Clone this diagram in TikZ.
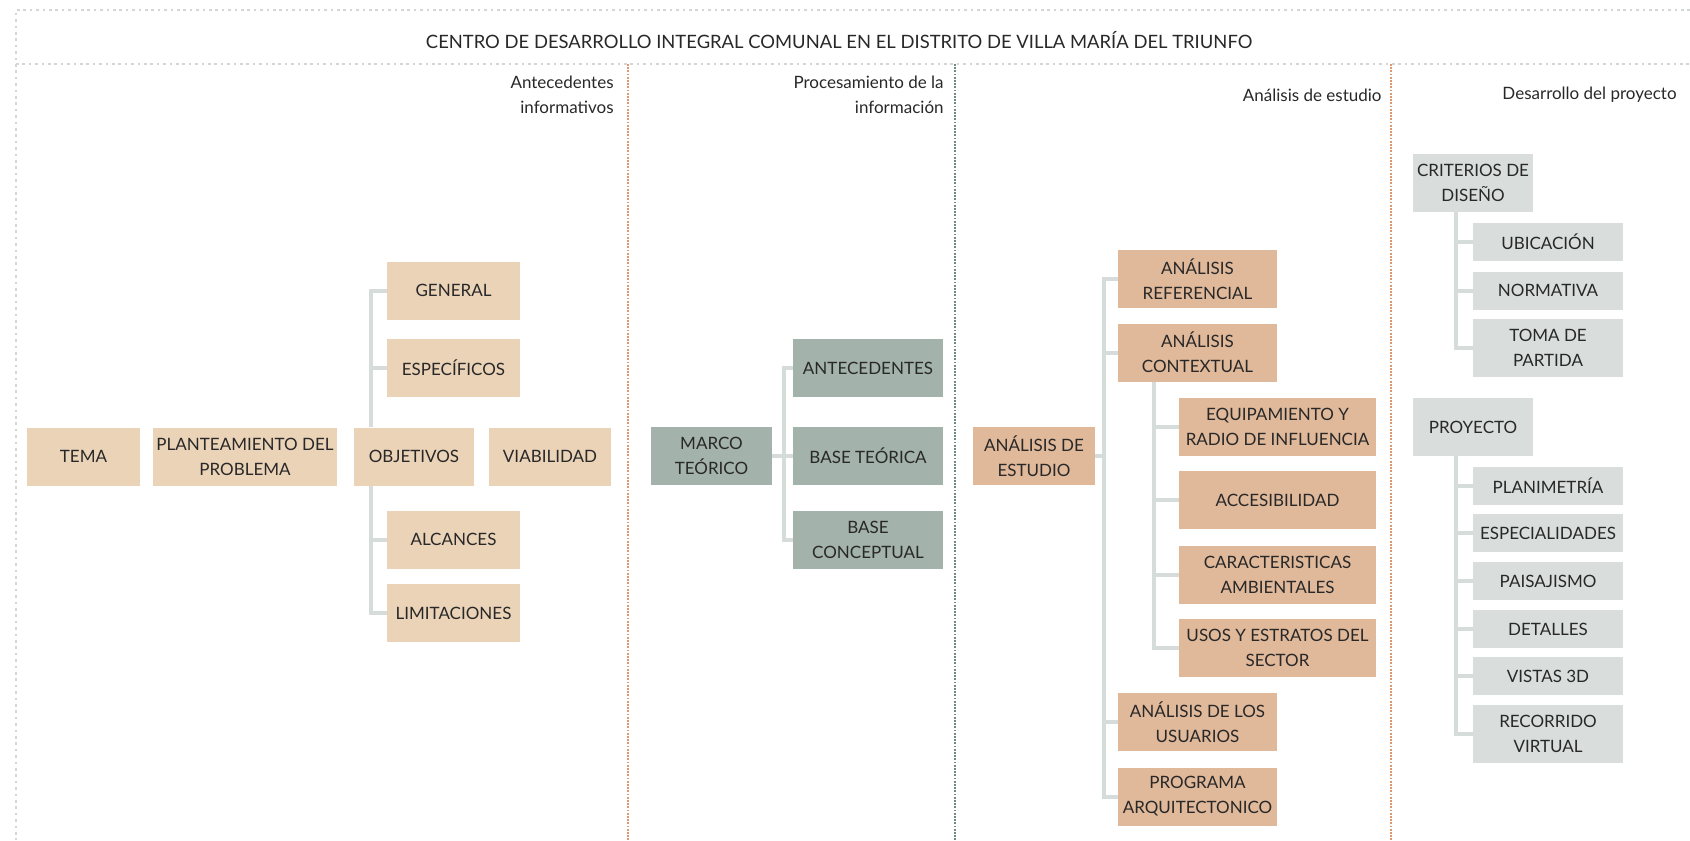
\documentclass[tikz,border=0pt]{standalone}
\usepackage{fontspec}
\setmainfont{Lato}
\definecolor{beige}{RGB}{235,211,184}
\definecolor{salvia}{RGB}{163,178,170}
\definecolor{canela}{RGB}{224,184,154}
\definecolor{perla}{RGB}{217,222,220}
\definecolor{enlace}{RGB}{214,220,218}
\definecolor{marco}{RGB}{210,214,214}
\definecolor{naranja}{RGB}{222,152,108}
\definecolor{verde}{RGB}{112,138,124}
\definecolor{tinta}{RGB}{40,40,40}
\tikzset{
  box/.style={inner sep=0pt, minimum height=29pt, align=center, text=tinta,
    font=\fontsize{8.5}{12.5}\selectfont},
  head/.style={anchor=east, align=right, inner xsep=0pt, text=tinta,
    font=\fontsize{8.5}{12.5}\selectfont},
  frame/.style={marco, line width=1.3pt, dash pattern=on 1.3pt off 1.9pt},
  divorange/.style={naranja, line width=1.2pt, dash pattern=on 0.9pt off 0.7pt},
  divgreen/.style={verde, line width=1.2pt, dash pattern=on 0.9pt off 0.7pt},
  link/.style={enlace, line width=2pt}
}

\begin{document}
\begin{tikzpicture}[x=0.5pt,y=-0.5pt]
\useasboundingbox (0,0) rectangle (1690,840);
% frame and columns
\draw[frame] (1690,10) -- (16,10) -- (16,840);
\draw[frame] (16,64) -- (1690,64);
\draw[divorange] (628,64) -- (628,840);
\draw[divgreen] (955,64) -- (955,840);
\draw[divorange] (1391,64) -- (1391,840);

\node[text=tinta, font=\fontsize{9.2}{11}\selectfont] (titulo) at (839,40)
  {CENTRO DE DESARROLLO INTEGRAL COMUNAL EN EL DISTRITO DE VILLA MARÍA DEL TRIUNFO};
\node[head] (h1) at (614,95) {Antecedentes\\informativos};
\node[head] (h2) at (944,95) {Procesamiento de la\\información};
\node[head] (h3) at (1382,95) {Análisis de estudio};
\node[head] (h4) at (1677,95) {Desarrollo del proyecto};

% antecedentes informativos
\node[box, fill=beige, minimum width=56.5pt] (tema) at (83.5,456.5) {TEMA};
\node[box, fill=beige, minimum width=92pt] (plan) at (245,456.5) {PLANTEAMIENTO DEL\\PROBLEMA};
\node[box, fill=beige, minimum width=60pt] (obj) at (414,456.5) {OBJETIVOS};
\node[box, fill=beige, minimum width=61pt] (via) at (550,456.5) {VIABILIDAD};
\node[box, fill=beige, minimum width=66.5pt] (gen) at (453.5,290.5) {GENERAL};
\node[box, fill=beige, minimum width=66.5pt] (esp) at (453.5,368) {ESPECÍFICOS};
\node[box, fill=beige, minimum width=66.5pt] (alc) at (453.5,539.5) {ALCANCES};
\node[box, fill=beige, minimum width=66.5pt] (lim) at (453.5,613) {LIMITACIONES};

\coordinate (sp1) at (371,0);
\draw[link] (sp1 |- obj.north) |- (gen.west);
\draw[link] (sp1 |- obj.south) |- (lim.west);
\foreach \n in {esp,alc}
  \draw[link] (sp1 |- \n.west) -- (\n.west);

% procesamiento de la informacion
\node[box, fill=salvia, minimum width=60.5pt] (mt) at (711.5,456) {MARCO\\TEÓRICO};
\node[box, fill=salvia, minimum width=75pt] (ant) at (868,368) {ANTECEDENTES};
\node[box, fill=salvia, minimum width=75pt] (bteo) at (868,456) {BASE TEÓRICA};
\node[box, fill=salvia, minimum width=75pt] (bcon) at (868,539.5) {BASE\\CONCEPTUAL};

\coordinate (sp2) at (784,0);
\draw[link] (mt.east) -- (bteo.west);
\draw[link] (ant.west) -| (sp2 |- bcon.west) -- (bcon.west);

% analisis de estudio
\node[box, fill=canela, minimum width=61pt] (ae) at (1034,456) {ANÁLISIS DE\\ESTUDIO};
\node[box, fill=canela, minimum width=79.5pt] (ref) at (1197.5,279) {ANÁLISIS\\REFERENCIAL};
\node[box, fill=canela, minimum width=79.5pt] (ctx) at (1197.5,352.5) {ANÁLISIS\\CONTEXTUAL};
\node[box, fill=canela, minimum width=98.5pt] (equ) at (1277.5,427) {EQUIPAMIENTO Y\\RADIO DE INFLUENCIA};
\node[box, fill=canela, minimum width=98.5pt] (acc) at (1277.5,500) {ACCESIBILIDAD};
\node[box, fill=canela, minimum width=98.5pt] (car) at (1277.5,574.5) {CARACTERISTICAS\\AMBIENTALES};
\node[box, fill=canela, minimum width=98.5pt] (usos) at (1277.5,648) {USOS Y ESTRATOS DEL\\SECTOR};
\node[box, fill=canela, minimum width=79.5pt] (usu) at (1197.5,722) {ANÁLISIS DE LOS\\USUARIOS};
\node[box, fill=canela, minimum width=79.5pt] (prog) at (1197.5,796.5) {PROGRAMA\\ARQUITECTONICO};

\coordinate (sp3) at (1104,0);
\coordinate (sp4) at (1154,0);
\draw[link] (ae.east) -- (sp3 |- ae.east);
\draw[link] (ref.west) -| (sp3 |- prog.west) -- (prog.west);
\foreach \n in {ctx,usu}
  \draw[link] (sp3 |- \n.west) -- (\n.west);
\draw[link] (sp4 |- ctx.south) |- (usos.west);
\foreach \n in {equ,acc,car}
  \draw[link] (sp4 |- \n.west) -- (\n.west);

% desarrollo del proyecto
\node[box, fill=perla, minimum width=60pt] (crit) at (1473,183) {CRITERIOS DE\\DISEÑO};
\node[box, fill=perla, minimum width=75pt, minimum height=19pt] (ubic) at (1548,242) {UBICACIÓN};
\node[box, fill=perla, minimum width=75pt, minimum height=19pt] (norm) at (1548,290.5) {NORMATIVA};
\node[box, fill=perla, minimum width=75pt] (toma) at (1548,348) {TOMA DE\\PARTIDA};
\node[box, fill=perla, minimum width=60pt] (proy) at (1473,427) {PROYECTO};
\node[box, fill=perla, minimum width=75pt, minimum height=19pt] (pla) at (1548,485.5) {PLANIMETRÍA};
\node[box, fill=perla, minimum width=75pt, minimum height=19pt] (espc) at (1548,533) {ESPECIALIDADES};
\node[box, fill=perla, minimum width=75pt, minimum height=19pt] (pais) at (1548,581) {PAISAJISMO};
\node[box, fill=perla, minimum width=75pt, minimum height=19pt] (det) at (1548,629) {DETALLES};
\node[box, fill=perla, minimum width=75pt, minimum height=19pt] (vis) at (1548,676) {VISTAS 3D};
\node[box, fill=perla, minimum width=75pt] (rec) at (1548,733.5) {RECORRIDO\\VIRTUAL};

\coordinate (sp5) at (1456,0);
\draw[link] (sp5 |- crit.south) |- (toma.west);
\foreach \n in {ubic,norm}
  \draw[link] (sp5 |- \n.west) -- (\n.west);
\draw[link] (sp5 |- proy.south) |- (rec.west);
\foreach \n in {pla,espc,pais,det,vis}
  \draw[link] (sp5 |- \n.west) -- (\n.west);
\end{tikzpicture}
\end{document}
